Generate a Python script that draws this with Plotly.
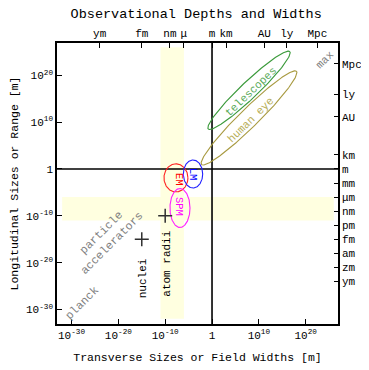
import numpy as np
import plotly.graph_objects as go

# ---------------- data ----------------
x_tick_vals = [1e-30, 1e-20, 1e-10, 1, 1e10, 1e20]
x_tick_text = ["10<sup>-30</sup>", "10<sup>-20</sup>", "10<sup>-10</sup>", "1",
               "10<sup>10</sup>", "10<sup>20</sup>"]
unit_vals = [1e-24, 1e-15, 1e-9, 1e-6, 1, 1e3, 1.496e11, 9.461e15, 3.086e22]
unit_text_top = ["ym", "fm", "nm", "μ", "m", "km", "AU", "ly", "Mpc"]
unit_vals_right = [3.086e22, 9.461e15, 1.496e11, 1e3, 1, 1e-3, 1e-6, 1e-9,
                   1e-12, 1e-15, 1e-18, 1e-21, 1e-24]
unit_text_right = ["Mpc", "ly", "AU", "km", "m", "mm", "μm", "nm", "pm",
                   "fm", "am", "zm", "ym"]

# highlighted bands (log10 m)
band_short = [-11, -6]
band_long = [-32, 26]

# instrument regions (ellipses in log10 space)
ell_names = ["telescopes", "human eye", "EM", "LM", "SPM"]
ell_cx = [7.9, 7.9, -7.7, -4.06, -6.84]
ell_cy = [16.8, 10.9, -1.9, -1.07, -8.33]
ell_a = [12.0, 14.2, 2.56, 2.07, 2.14]
ell_b = [1.8, 2.0, 3.0, 3.0, 4.17]
ell_angle = [43.5, 44.5, 0, 0, 0]
ell_color = ["#3a9a3a", "#a89a40", "#ff2020", "#2020ff", "#ff20ff"]

# labels (log10 positions)
lab_text = ["telescopes", "human eye", "max", "particle<br>accelerators", "planck",
            "nuclei", "atom radii", "EM", "LM", "SPM"]
lab_x = [8.3, 8.3, 24.1, -22.6, -27.7, -14.7, -9.8, -7.2, -4.0, -7.05]
lab_y = [16.5, 10.5, 23.3, -14.7, -28.5, -23.3, -20.2, -2.2, -1.07, -7.9]
lab_angle = [-43.5, -44.5, -45, -45, -45, -90, -90, 90, 90, 90]
lab_color = ["#5aaa5a", "#b8ae58", "#808080", "#808080", "#808080",
             "#000000", "#000000", "#ff0000", "#0000ff", "#ff00ff"]
lab_size = [11, 11, 11, 11.5, 11.5, 11, 11, 10.5, 10.5, 10.5]

# example points
pt_x = [1e-10, 1e-15]
pt_y = [1e-10, 1e-15]

RANGE = [-33.1, 26.9]
FONT = "Liberation Mono, Courier New, monospace"

fig = go.Figure()

# bands
for xs, ys in [((band_short[0], band_short[1]), (band_long[0], band_long[1])),
               ((band_long[0], band_long[1]), (band_short[0], band_short[1]))]:
    x0, x1 = 10.0 ** xs[0], 10.0 ** xs[1]
    y0, y1 = 10.0 ** ys[0], 10.0 ** ys[1]
    fig.add_trace(go.Scatter(x=[x0, x1, x1, x0, x0], y=[y0, y0, y1, y1, y0],
                             fill="toself", fillcolor="#ffffe0", mode="lines",
                             line=dict(width=0), hoverinfo="skip", showlegend=False))

# axis cross lines at 1 m
lo, hi = 10.0 ** RANGE[0], 10.0 ** RANGE[1]
fig.add_trace(go.Scatter(x=[1, 1], y=[lo, hi], mode="lines",
                         line=dict(color="black", width=1.6), showlegend=False,
                         hoverinfo="skip"))
fig.add_trace(go.Scatter(x=[lo, hi], y=[1, 1], mode="lines",
                         line=dict(color="black", width=1.6), showlegend=False,
                         hoverinfo="skip"))

# ellipses
t = np.linspace(0, 2 * np.pi, 200)
for cx, cy, a, b, ang, col in zip(ell_cx, ell_cy, ell_a, ell_b, ell_angle, ell_color):
    th = np.deg2rad(ang)
    ex = cx + a * np.cos(t) * np.cos(th) - b * np.sin(t) * np.sin(th)
    ey = cy + a * np.cos(t) * np.sin(th) + b * np.sin(t) * np.cos(th)
    fig.add_trace(go.Scatter(x=10.0 ** ex, y=10.0 ** ey, mode="lines",
                             line=dict(color=col, width=1.1), showlegend=False,
                             hoverinfo="skip"))

# points
fig.add_trace(go.Scatter(x=pt_x, y=pt_y, mode="markers",
                         marker=dict(symbol="cross-thin", size=10,
                                     line=dict(color="#303030", width=1.5)),
                         showlegend=False))

# invisible trace for secondary axes
fig.add_trace(go.Scatter(x=[1], y=[1], xaxis="x2", yaxis="y2", mode="markers",
                         marker=dict(opacity=0), showlegend=False, hoverinfo="skip"))

for txt, x, y, ang, col, sz in zip(lab_text, lab_x, lab_y, lab_angle, lab_color, lab_size):
    fig.add_annotation(x=x, y=y, xref="x", yref="y", text=txt, textangle=ang,
                       showarrow=False, font=dict(family=FONT, size=sz, color=col))

axis_common = dict(type="log", range=RANGE, showgrid=False, zeroline=False,
                   showline=True, linecolor="black", linewidth=1.5,
                   ticks="inside", ticklen=5, tickcolor="black", tickwidth=1.2,
                   automargin=False,
                   tickfont=dict(family=FONT, size=11, color="black"))

# the page body has an 8px margin, so margins are offset to compensate
fig.update_layout(
    width=369, height=370,
    margin=dict(l=49, r=39, t=35, b=54),
    paper_bgcolor="white", plot_bgcolor="white",
    font=dict(family=FONT, color="black"),
    title=dict(text="Observational Depths and Widths", x=0.51, xanchor="center",
               y=0.986, yanchor="middle",
               font=dict(family=FONT, size=13.5, color="black")),
    xaxis=dict(**axis_common, tickmode="array", tickvals=x_tick_vals,
               ticktext=x_tick_text,
               title=dict(text="Transverse Sizes or Field Widths [m]",
                          font=dict(family=FONT, size=11.5), standoff=12)),
    yaxis=dict(**axis_common, tickmode="array", tickvals=x_tick_vals,
               ticktext=x_tick_text,
               title=dict(text="Longitudinal Sizes or Range [m]",
                          font=dict(family=FONT, size=11.5), standoff=12)),
    xaxis2=dict(**axis_common, overlaying="x", side="top", anchor="y",
                tickmode="array", tickvals=unit_vals, ticktext=unit_text_top),
    yaxis2=dict(**axis_common, overlaying="y", side="right", anchor="x",
                tickmode="array", tickvals=unit_vals_right, ticktext=unit_text_right),
)
fig.update_layout(yaxis2_ticklen=4)

fig.write_html("out.html")
